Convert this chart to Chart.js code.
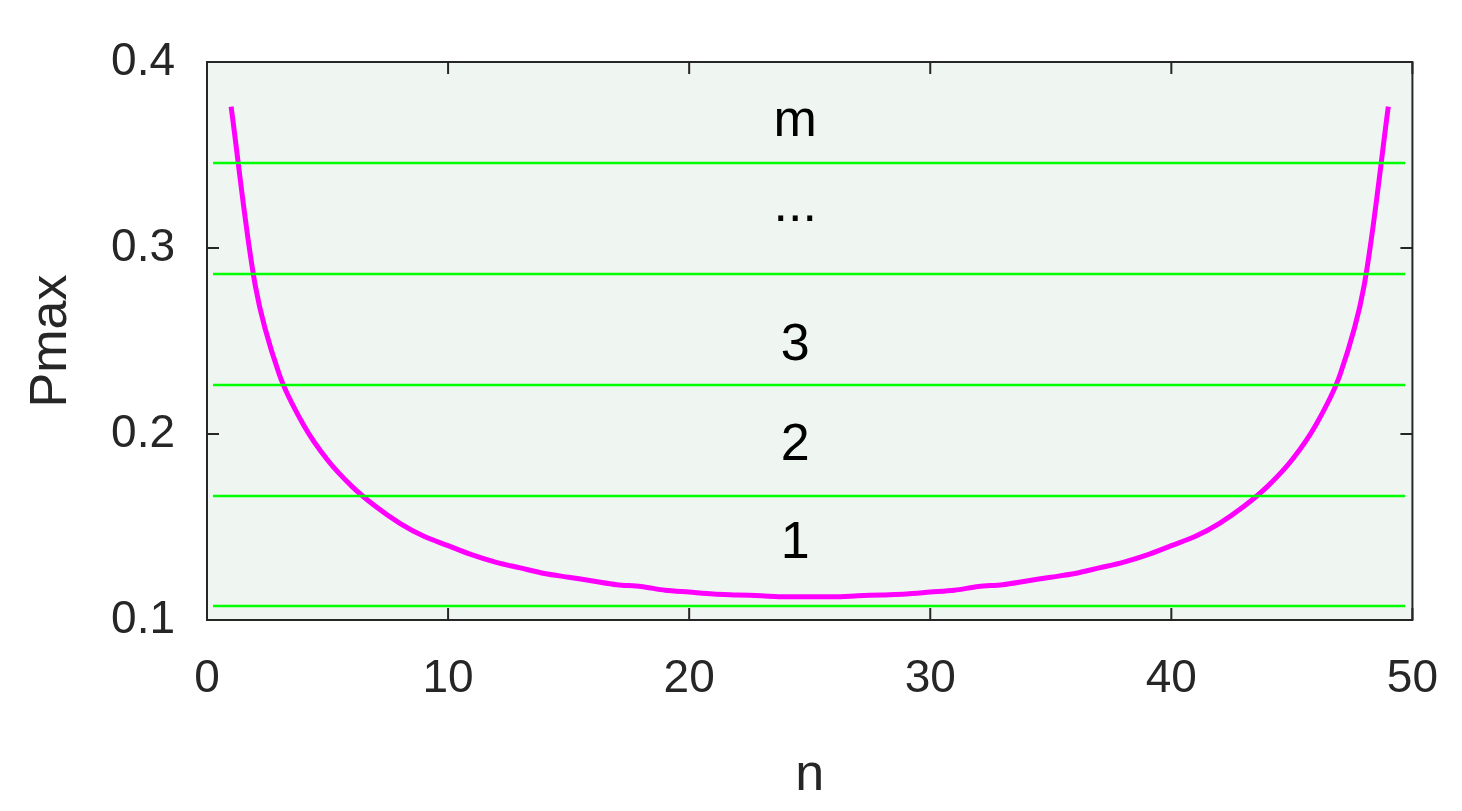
<!DOCTYPE html>
<html>
<head>
<meta charset="utf-8">
<script src="https://cdn.jsdelivr.net/npm/chart.js@4"></script>
<style>
  body { margin: 0; background: #fff; }
  #wrap { width: 1462px; height: 811px; }
</style>
</head>
<body>
<div id="wrap"><canvas id="chart"></canvas></div>
<script>
const nValues = [1,2,3,4,5,6,7,8,9,10,11,12,13,14,15,16,17,18,19,20,21,22,23,24,25,
  26,27,28,29,30,31,32,33,34,35,36,37,38,39,40,41,42,43,44,45,46,47,48,49];
const pmaxValues = [0.376,0.280,0.232,0.205,0.186,0.172,0.161,0.152,0.145,0.140,0.135,0.131,0.128,0.125,0.123,0.121,0.119,0.118,0.116,0.115,0.114,0.1135,0.113,0.1125,0.1125,
  0.1125,0.113,0.1135,0.114,0.115,0.116,0.118,0.119,0.121,0.123,0.125,0.128,0.131,0.135,0.140,0.145,0.152,0.161,0.172,0.186,0.205,0.232,0.280,0.376];
const levelValues = [0.1075, 0.1667, 0.2263, 0.286, 0.3457];
const levelLabels = ['1', '2', '3', '...', 'm'];
const levelLabelY = [0.1413, 0.1935, 0.2475, 0.322, 0.3677];
const xTicks = [0, 10, 20, 30, 40, 50];
const yTicks = [0.1, 0.2, 0.3, 0.4];

const FONT = '"Liberation Sans", Arial, sans-serif';

const levelSets = levelValues.map(v => ({
  data: [{x: 0.25, y: v}, {x: 49.7, y: v}],
  borderColor: '#00ff00',
  borderWidth: 2.5,
  pointRadius: 0
}));

// box, inner ticks and level labels
const framePlugin = {
  id: 'frame',
  afterDatasetsDraw(chart) {
    const {ctx, chartArea: a, scales: {x, y}} = chart;
    ctx.save();
    ctx.strokeStyle = '#262626';
    ctx.lineWidth = 2;
    ctx.strokeRect(a.left, a.top, a.right - a.left, a.bottom - a.top);
    ctx.beginPath();
    xTicks.forEach(t => {
      const px = x.getPixelForValue(t);
      ctx.moveTo(px, a.bottom); ctx.lineTo(px, a.bottom - 12);
      ctx.moveTo(px, a.top); ctx.lineTo(px, a.top + 12);
    });
    yTicks.forEach(t => {
      const py = y.getPixelForValue(t);
      ctx.moveTo(a.left, py); ctx.lineTo(a.left + 12, py);
      ctx.moveTo(a.right, py); ctx.lineTo(a.right - 12, py);
    });
    ctx.stroke();
    ctx.fillStyle = '#000';
    ctx.font = '52px ' + FONT;
    ctx.textAlign = 'center';
    ctx.textBaseline = 'middle';
    levelLabels.forEach((l, i) => {
      ctx.fillText(l, x.getPixelForValue(24.4), y.getPixelForValue(levelLabelY[i]));
    });
    ctx.restore();
  },
  beforeDraw(chart) {
    const {ctx, chartArea: a} = chart;
    ctx.save();
    ctx.fillStyle = '#eff5f0';
    ctx.fillRect(a.left, a.top, a.right - a.left, a.bottom - a.top);
    ctx.restore();
  }
};

new Chart(document.getElementById('chart'), {
  type: 'line',
  data: {
    datasets: [
      ...levelSets,
      {
        data: nValues.map((n, i) => ({x: n, y: pmaxValues[i]})),
        borderColor: '#ff00ff',
        borderWidth: 5,
        pointRadius: 0,
        tension: 0.3
      }
    ]
  },
  options: {
    responsive: true,
    maintainAspectRatio: false,
    animation: false,
    layout: { padding: { top: 62, right: 34, left: 0, bottom: 0 } },
    plugins: { legend: { display: false }, tooltip: { enabled: false } },
    scales: {
      x: {
        type: 'linear', min: 0, max: 50,
        afterBuildTicks: s => { s.ticks = xTicks.map(v => ({value: v})); },
        afterFit: s => { s.height = 191; },
        grid: { display: false },
        border: { display: false },
        ticks: { color: '#262626', font: { size: 46, family: FONT }, padding: 24, maxRotation: 0 },
        title: { display: true, text: 'n', color: '#262626', font: { size: 52, family: FONT }, padding: { top: 14 } }
      },
      y: {
        type: 'linear', min: 0.1, max: 0.4,
        afterBuildTicks: s => { s.ticks = yTicks.map(v => ({value: v})); },
        afterFit: s => { s.width = 207; },
        grid: { display: false },
        border: { display: false },
        ticks: { color: '#262626', font: { size: 46, family: FONT }, padding: 24,
          callback: v => v.toFixed(1) },
        title: { display: true, text: 'Pmax', color: '#262626', font: { size: 52, family: FONT }, padding: { top: 20, bottom: 8 } }
      }
    }
  },
  plugins: [framePlugin]
});
</script>
</body>
</html>
